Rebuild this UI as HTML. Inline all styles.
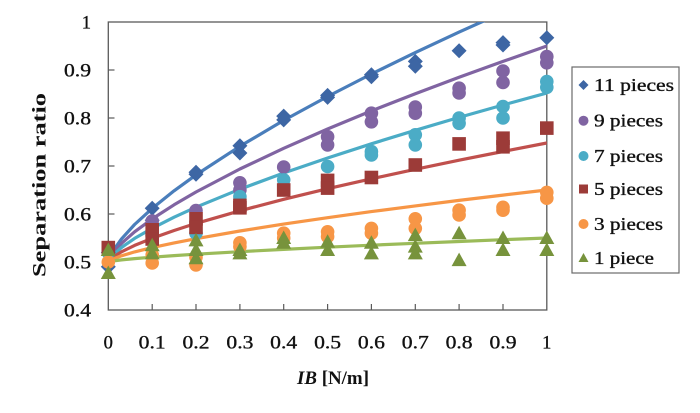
<!DOCTYPE html>
<html>
<head>
<meta charset="utf-8">
<style>
html,body{margin:0;padding:0;background:#fff;}
svg{display:block;}
text{font-family:"Liberation Serif",serif;fill:#111;}
.t{stroke:#111;stroke-width:0.35;}
</style>
</head>
<body>
<svg width="700" height="413" viewBox="0 0 700 413" xmlns="http://www.w3.org/2000/svg">
<defs>
  <clipPath id="pc"><rect x="108.3" y="22" width="438.5" height="288"/></clipPath>
  <polygon id="dia" points="0,-7.5 7.5,0 0,7.5 -7.5,0" fill="#3d66a4"/>
  <circle id="cp" r="6.8" fill="#8064a2"/>
  <circle id="cc" r="6.8" fill="#4bacc6"/>
  <rect id="sq" x="-6.8" y="-6.8" width="13.6" height="13.6" fill="#9c3b38"/>
  <circle id="co" r="6.8" fill="#f79646"/>
  <polygon id="tri" points="0,-7.5 7.5,6 -7.5,6" fill="#77933c"/>
</defs>

<!-- frame -->
<rect x="108.3" y="22" width="438.5" height="288" fill="none" stroke="#5a5a5a" stroke-width="1.3"/>
<g stroke="#5a5a5a" stroke-width="1.2">
  <line x1="108.3" y1="70" x2="114.5" y2="70"/>
  <line x1="108.3" y1="118" x2="114.5" y2="118"/>
  <line x1="108.3" y1="166" x2="114.5" y2="166"/>
  <line x1="108.3" y1="214" x2="114.5" y2="214"/>
  <line x1="108.3" y1="262" x2="114.5" y2="262"/>
  <line x1="152.2" y1="310" x2="152.2" y2="304"/>
  <line x1="196.0" y1="310" x2="196.0" y2="304"/>
  <line x1="239.9" y1="310" x2="239.9" y2="304"/>
  <line x1="283.7" y1="310" x2="283.7" y2="304"/>
  <line x1="327.6" y1="310" x2="327.6" y2="304"/>
  <line x1="371.4" y1="310" x2="371.4" y2="304"/>
  <line x1="415.3" y1="310" x2="415.3" y2="304"/>
  <line x1="459.1" y1="310" x2="459.1" y2="304"/>
  <line x1="503.0" y1="310" x2="503.0" y2="304"/>
</g>

<!-- y labels -->
<g font-size="18.5" text-anchor="end" class="t">
  <text x="91" y="28.5">1</text>
  <text x="91" y="76.5" textLength="27" lengthAdjust="spacingAndGlyphs">0.9</text>
  <text x="91" y="124.5" textLength="27" lengthAdjust="spacingAndGlyphs">0.8</text>
  <text x="91" y="172.5" textLength="27" lengthAdjust="spacingAndGlyphs">0.7</text>
  <text x="91" y="220.5" textLength="27" lengthAdjust="spacingAndGlyphs">0.6</text>
  <text x="91" y="268.5" textLength="27" lengthAdjust="spacingAndGlyphs">0.5</text>
  <text x="91" y="316.5" textLength="27" lengthAdjust="spacingAndGlyphs">0.4</text>
</g>
<!-- x labels -->
<g font-size="18.5" text-anchor="middle" class="t">
  <text x="108.3" y="348.5">0</text>
  <text x="152.2" y="348.5" textLength="27" lengthAdjust="spacingAndGlyphs">0.1</text>
  <text x="196.0" y="348.5" textLength="27" lengthAdjust="spacingAndGlyphs">0.2</text>
  <text x="239.9" y="348.5" textLength="27" lengthAdjust="spacingAndGlyphs">0.3</text>
  <text x="283.7" y="348.5" textLength="27" lengthAdjust="spacingAndGlyphs">0.4</text>
  <text x="327.6" y="348.5" textLength="27" lengthAdjust="spacingAndGlyphs">0.5</text>
  <text x="371.4" y="348.5" textLength="27" lengthAdjust="spacingAndGlyphs">0.6</text>
  <text x="415.3" y="348.5" textLength="27" lengthAdjust="spacingAndGlyphs">0.7</text>
  <text x="459.1" y="348.5" textLength="27" lengthAdjust="spacingAndGlyphs">0.8</text>
  <text x="503.0" y="348.5" textLength="27" lengthAdjust="spacingAndGlyphs">0.9</text>
  <text x="546.8" y="348.5">1</text>
</g>

<!-- axis titles -->
<text x="297" y="384" font-size="19" font-weight="bold" textLength="72" lengthAdjust="spacingAndGlyphs"><tspan font-style="italic">IB</tspan> [N/m]</text>
<text transform="translate(45.5,185) rotate(-90)" x="0" y="0" font-size="19" font-weight="bold" text-anchor="middle" textLength="184" lengthAdjust="spacingAndGlyphs">Separation ratio</text>

<!-- curves -->
<g clip-path="url(#pc)" fill="none" stroke-width="3.2" stroke-linejoin="round" stroke-linecap="round">
  <polyline stroke="#4a7ebb" points="108.3,262 112.7,251.3 121.5,238.9 134.6,224.5 152.2,208.4 174.1,190.8 196.0,174.9 239.9,146.3 283.7,120.4 327.6,96.5 371.4,74.0 415.3,52.6 459.1,32.1 503.0,12.3 546.8,-6.8"/>
  <polyline stroke="#8064a2" points="108.3,262 112.7,253.4 121.5,243.4 134.6,231.8 152.2,218.9 174.1,204.8 196.0,192.0 239.9,169.0 283.7,148.3 327.6,129.0 371.4,110.9 415.3,93.7 459.1,77.2 503.0,61.4 546.8,46.0"/>
  <polyline stroke="#4bacc6" points="108.3,262 112.7,255.3 121.5,247.5 134.6,238.4 152.2,228.3 174.1,217.2 196.0,207.2 239.9,189.2 283.7,173.0 327.6,158.0 371.4,143.8 415.3,130.3 459.1,117.4 503.0,105.0 546.8,93.0"/>
  <polyline stroke="#c0504d" points="108.3,262 112.7,257.3 121.5,251.8 134.6,245.4 152.2,238.3 174.1,230.5 196.0,223.4 239.9,210.8 283.7,199.3 327.6,188.7 371.4,178.8 415.3,169.3 459.1,160.2 503.0,151.5 546.8,143.0"/>
  <polyline stroke="#f79646" points="108.3,262 112.7,259.1 121.5,255.8 134.6,251.9 152.2,247.6 174.1,242.9 196.0,238.7 239.9,231.0 283.7,224.1 327.6,217.7 371.4,211.6 415.3,205.9 459.1,200.4 503.0,195.1 546.8,190.0"/>
  <polyline stroke="#9bbb59" points="108.3,262 112.7,261.0 121.5,259.9 134.6,258.6 152.2,257.2 174.1,255.6 196.0,254.2 239.9,251.7 283.7,249.4 327.6,247.2 371.4,245.2 415.3,243.3 459.1,241.5 503.0,239.7 546.8,238.0"/>
</g>

<!-- 11 pieces -->
<g>
  <use href="#dia" x="108.3" y="252.4"/><use href="#dia" x="108.3" y="266.8"/>
  <use href="#dia" x="152.2" y="208.2"/><use href="#dia" x="152.2" y="220.2"/>
  <use href="#dia" x="196.0" y="174.2"/><use href="#dia" x="196.0" y="172.2"/>
  <use href="#dia" x="239.9" y="145.8"/><use href="#dia" x="239.9" y="153.0"/>
  <use href="#dia" x="283.7" y="116.1"/><use href="#dia" x="283.7" y="119.9"/>
  <use href="#dia" x="327.6" y="97.4"/><use href="#dia" x="327.6" y="95.4"/>
  <use href="#dia" x="371.4" y="74.8"/><use href="#dia" x="371.4" y="76.7"/>
  <use href="#dia" x="415.3" y="61.4"/><use href="#dia" x="415.3" y="66.2"/>
  <use href="#dia" x="459.1" y="50.8"/>
  <use href="#dia" x="503.0" y="42.6"/><use href="#dia" x="503.0" y="45.0"/>
  <use href="#dia" x="546.8" y="37.8"/>
</g>
<!-- 9 pieces -->
<g>
  <use href="#cp" x="108.3" y="252.4"/>
  <use href="#cp" x="152.2" y="221"/>
  <use href="#cp" x="196.0" y="210.6"/>
  <use href="#cp" x="239.9" y="182.8"/><use href="#cp" x="239.9" y="190"/>
  <use href="#cp" x="283.7" y="167"/>
  <use href="#cp" x="327.6" y="136.7"/><use href="#cp" x="327.6" y="144.9"/>
  <use href="#cp" x="371.4" y="113.2"/><use href="#cp" x="371.4" y="121.8"/>
  <use href="#cp" x="415.3" y="107"/><use href="#cp" x="415.3" y="113.2"/>
  <use href="#cp" x="459.1" y="88.2"/><use href="#cp" x="459.1" y="93"/>
  <use href="#cp" x="503.0" y="71"/><use href="#cp" x="503.0" y="82.5"/>
  <use href="#cp" x="546.8" y="56.6"/><use href="#cp" x="546.8" y="62.8"/>
</g>
<!-- 7 pieces -->
<g>
  <use href="#cc" x="108.3" y="252.4"/>
  <use href="#cc" x="152.2" y="235.6"/>
  <use href="#cc" x="196.0" y="233.2"/>
  <use href="#cc" x="239.9" y="196.7"/>
  <use href="#cc" x="283.7" y="179.9"/>
  <use href="#cc" x="327.6" y="166.5"/>
  <use href="#cc" x="371.4" y="151.6"/><use href="#cc" x="371.4" y="155"/>
  <use href="#cc" x="415.3" y="134.8"/><use href="#cc" x="415.3" y="144.9"/>
  <use href="#cc" x="459.1" y="118"/><use href="#cc" x="459.1" y="123.3"/>
  <use href="#cc" x="503.0" y="106.5"/><use href="#cc" x="503.0" y="118"/>
  <use href="#cc" x="546.8" y="81.5"/><use href="#cc" x="546.8" y="87.3"/>
</g>
<!-- 5 pieces -->
<g>
  <use href="#sq" x="108.3" y="247.6"/>
  <use href="#sq" x="152.2" y="229.8"/><use href="#sq" x="152.2" y="239"/>
  <use href="#sq" x="196.0" y="218.8"/><use href="#sq" x="196.0" y="227.4"/>
  <use href="#sq" x="239.9" y="207.8"/><use href="#sq" x="239.9" y="205.4"/>
  <use href="#sq" x="283.7" y="190"/>
  <use href="#sq" x="327.6" y="180.4"/><use href="#sq" x="327.6" y="188.1"/>
  <use href="#sq" x="371.4" y="177.5"/>
  <use href="#sq" x="415.3" y="165.0"/>
  <use href="#sq" x="459.1" y="143.9"/>
  <use href="#sq" x="503.0" y="138.2"/><use href="#sq" x="503.0" y="146.8"/>
  <use href="#sq" x="546.8" y="128.1"/>
</g>
<!-- 3 pieces -->
<g>
  <use href="#co" x="108.3" y="262"/>
  <use href="#co" x="152.2" y="263"/><use href="#co" x="152.2" y="254.8"/>
  <use href="#co" x="196.0" y="264.9"/><use href="#co" x="196.0" y="257.2"/>
  <use href="#co" x="239.9" y="242.8"/><use href="#co" x="239.9" y="246.6"/>
  <use href="#co" x="283.7" y="233.2"/><use href="#co" x="283.7" y="238"/>
  <use href="#co" x="327.6" y="231.8"/><use href="#co" x="327.6" y="236.6"/>
  <use href="#co" x="371.4" y="228.4"/><use href="#co" x="371.4" y="233.2"/>
  <use href="#co" x="415.3" y="218.8"/><use href="#co" x="415.3" y="228.4"/>
  <use href="#co" x="459.1" y="210.2"/><use href="#co" x="459.1" y="215"/>
  <use href="#co" x="503.0" y="207.3"/><use href="#co" x="503.0" y="210.2"/>
  <use href="#co" x="546.8" y="192.4"/><use href="#co" x="546.8" y="198.2"/>
</g>
<!-- 1 piece -->
<g>
  <use href="#tri" x="108.3" y="250"/><use href="#tri" x="108.3" y="273"/>
  <use href="#tri" x="152.2" y="245.2"/><use href="#tri" x="152.2" y="253.4"/>
  <use href="#tri" x="196.0" y="240.4"/><use href="#tri" x="196.0" y="250"/><use href="#tri" x="196.0" y="258.2"/>
  <use href="#tri" x="239.9" y="250"/><use href="#tri" x="239.9" y="253.4"/>
  <use href="#tri" x="283.7" y="238"/><use href="#tri" x="283.7" y="242.8"/>
  <use href="#tri" x="327.6" y="241.8"/><use href="#tri" x="327.6" y="250"/>
  <use href="#tri" x="371.4" y="242.8"/><use href="#tri" x="371.4" y="253.4"/>
  <use href="#tri" x="415.3" y="235.1"/><use href="#tri" x="415.3" y="246.6"/><use href="#tri" x="415.3" y="253.4"/>
  <use href="#tri" x="459.1" y="233.2"/><use href="#tri" x="459.1" y="260.1"/>
  <use href="#tri" x="503.0" y="238"/><use href="#tri" x="503.0" y="250"/>
  <use href="#tri" x="546.8" y="238"/><use href="#tri" x="546.8" y="250"/>
</g>

<!-- legend -->
<rect x="572" y="67" width="107" height="206" fill="#fff" stroke="#6a6a6a" stroke-width="1.2"/>
<polygon points="583.5,80 588.5,85 583.5,90 578.5,85" fill="#3d66a4"/>
<circle cx="583.5" cy="120.7" r="5" fill="#8064a2"/>
<circle cx="583.5" cy="156" r="5" fill="#4bacc6"/>
<rect x="579" y="184.5" width="9" height="9" fill="#9c3b38"/>
<circle cx="583.5" cy="224" r="5" fill="#f79646"/>
<polygon points="583.5,253 588.5,262 578.5,262" fill="#77933c"/>
<g font-size="18" class="t">
  <text x="594" y="91" textLength="80" lengthAdjust="spacingAndGlyphs">11 pieces</text>
  <text x="594" y="126.7" textLength="69" lengthAdjust="spacingAndGlyphs">9 pieces</text>
  <text x="594" y="162" textLength="69" lengthAdjust="spacingAndGlyphs">7 pieces</text>
  <text x="594" y="195" textLength="69" lengthAdjust="spacingAndGlyphs">5 pieces</text>
  <text x="594" y="230" textLength="69" lengthAdjust="spacingAndGlyphs">3 pieces</text>
  <text x="594" y="264" textLength="60" lengthAdjust="spacingAndGlyphs">1 piece</text>
</g>
</svg>
</body>
</html>
